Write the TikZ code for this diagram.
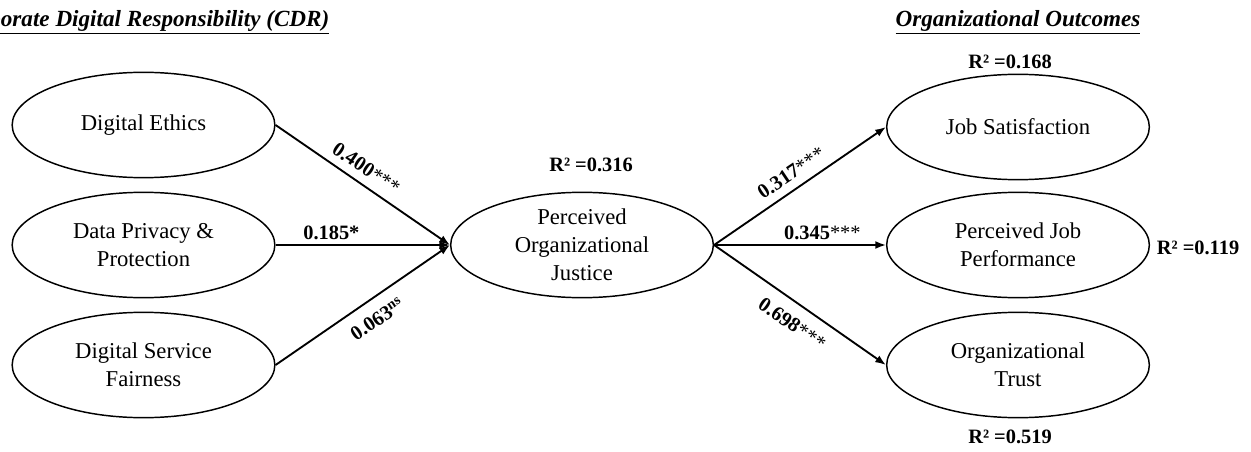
\documentclass[tikz,border=0pt]{standalone}
\usepackage{fontspec}
\setmainfont{Liberation Serif}
\usetikzlibrary{shapes,arrows.meta,positioning}

\tikzset{
  construct/.style={draw, ellipse, line width=1.1pt, minimum width=197pt, minimum height=79pt,
    inner sep=0pt, align=center, font=\fontsize{17}{21}\selectfont},
  pathline/.style={line width=1.4pt, -{Latex[length=8pt,width=6pt]}},
  coef/.style={font=\fontsize{15.3}{18}\selectfont\bfseries, inner sep=3pt},
  rsq/.style={font=\fontsize{15.3}{18}\selectfont\bfseries},
  heading/.style={font=\fontsize{17.35}{20}\selectfont\bfseries\itshape}
}

\begin{document}
\begin{tikzpicture}[x=0.75pt,y=0.75pt,yscale=-1,xscale=1]
\useasboundingbox (0,0) rectangle (1251,452);
\clip (0,0) rectangle (1251,452);

% Headings
\node[heading, anchor=east] (cdr) at (334,22) {\underline{Corporate Digital Responsibility (CDR)}};
\node[heading] (outcomes) at (1018,22) {\underline{Organizational Outcomes}};

% CDR constructs
\node[construct] (ethics) at (143.5,125) {Digital Ethics};
\node[construct] (privacy) at (143.5,245) {Data Privacy \&\\Protection};
\node[construct] (service) at (143.5,365) {Digital Service\\Fairness};

% Mediator
\node[construct] (justice) at (582,245) {Perceived\\Organizational\\Justice};
\node[rsq] (r2justice) at (591,165) {R² =0.316};

% Outcomes
\node[construct] (satisfaction) at (1018,127) {Job Satisfaction};
\node[construct] (performance) at (1018,245) {Perceived Job\\Performance};
\node[construct] (trust) at (1018,365) {Organizational\\Trust};
\node[rsq] (r2satisfaction) at (1010,62) {R² =0.168};
\node[rsq] (r2performance) at (1198,248) {R² =0.119};
\node[rsq] (r2trust) at (1010,437) {R² =0.519};

% Paths
\draw[pathline] (ethics.east) -- node[coef, anchor=south, rotate=-34, pos=0.47, inner sep=6pt] {0.400{\mdseries***}} (justice.west);
\draw[pathline] (privacy.east) -- node[coef, anchor=south, pos=0.32] {0.185*} (justice.west);
\draw[pathline] (service.east) -- node[coef, anchor=north, rotate=34, pos=0.52, inner sep=9pt] {0.063\textsuperscript{ns}} (justice.west);
\draw[pathline] (justice.east) -- node[coef, anchor=south, rotate=34, pos=0.5, inner sep=6pt] {0.317{\mdseries***}} (satisfaction.west);
\draw[pathline] (justice.east) -- node[coef, anchor=south, pos=0.63] {0.345{\mdseries***}} (performance.west);
\draw[pathline] (justice.east) -- node[coef, anchor=north, rotate=-34.5, pos=0.52, inner sep=9pt] {0.698{\mdseries***}} (trust.west);

\end{tikzpicture}
\end{document}
